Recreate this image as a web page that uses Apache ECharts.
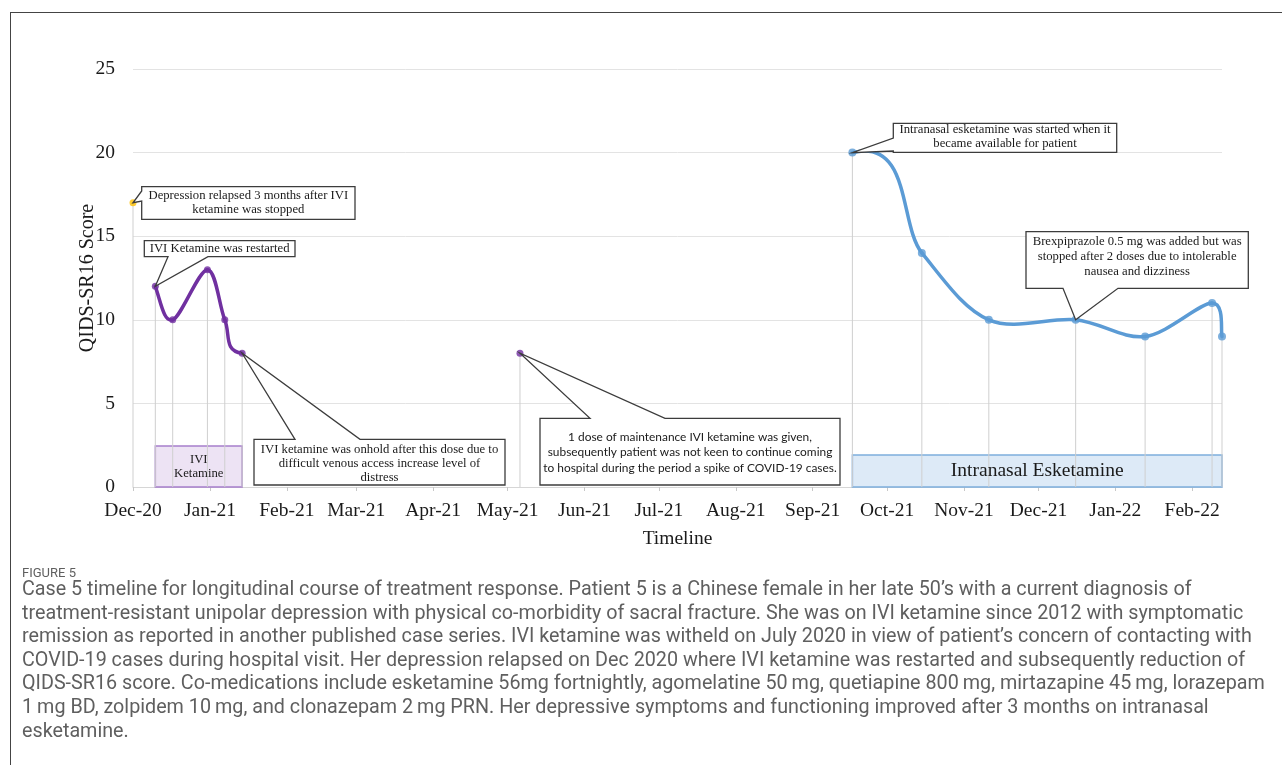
<!DOCTYPE html>
<html><head><meta charset="utf-8">
<script src="https://cdn.jsdelivr.net/npm/echarts@6/dist/echarts.min.js"></script>
<style>
html,body{margin:0;padding:0;background:#fff;}
#wrap{position:relative;width:1282px;height:765px;overflow:hidden;background:#fff;}
#frame{position:absolute;left:10px;top:12px;width:1400px;height:900px;border-left:1.5px solid #444;border-top:1.5px solid #444;}
#chart{position:absolute;left:0;top:0;width:1282px;height:765px;}
.cap{position:absolute;left:22px;white-space:nowrap;font-family:Roboto,"Noto Sans",sans-serif;color:#5f5f5f;}
</style></head>
<body>
<div id="wrap"><div id="frame"></div><div id="chart"></div><div id="caption"></div></div>
<script>
// ---------------- DATA ----------------
const monthNames = ['Jan','Feb','Mar','Apr','May','Jun','Jul','Aug','Sep','Oct','Nov','Dec'];
const axisStart = '2020-12-01';
const axisEnd = '2022-02-13';
const yMin = 0, yMax = 25, yStep = 5;

const relapseDates  = ['2020-12-01'];
const relapseScores = [17];

const iviDates  = ['2020-12-10','2020-12-17','2020-12-31','2021-01-07','2021-01-14'];
const iviScores = [12, 10, 13, 10, 8];

const maintDates  = ['2021-05-06'];
const maintScores = [8];

const esketDates  = ['2021-09-17','2021-10-15','2021-11-11','2021-12-16','2022-01-13','2022-02-09','2022-02-13'];
const esketScores = [20, 14, 10, 10, 9, 11, 9];

const iviPeriod   = {label: 'IVI\nKetamine', from: '2020-12-10', to: '2021-01-14', height: 2.45};
const esketPeriod = {label: 'Intranasal Esketamine', from: '2021-09-17', to: '2022-02-13', height: 1.92};

const captionTitle = 'FIGURE 5';
const captionLines = [
 'Case 5 timeline for longitudinal course of treatment response. Patient 5 is a Chinese female in her late 50\u2019s with a current diagnosis of',
 'treatment-resistant unipolar depression with physical co-morbidity of sacral fracture. She was on IVI ketamine since 2012 with symptomatic',
 'remission as reported in another published case series. IVI ketamine was witheld on July 2020 in view of patient\u2019s concern of contacting with',
 'COVID-19 cases during hospital visit. Her depression relapsed on Dec 2020 where IVI ketamine was restarted and subsequently reduction of',
 'QIDS-SR16 score. Co-medications include esketamine 56mg fortnightly, agomelatine 50\u2009mg, quetiapine 800\u2009mg, mirtazapine 45\u2009mg, lorazepam',
 '1\u2009mg BD, zolpidem 10\u2009mg, and clonazepam 2\u2009mg PRN. Her depressive symptoms and functioning improved after 3 months on intranasal',
 'esketamine.'
];

// ---------------- HELPERS ----------------
function ts(s){ const p = s.split('-').map(Number); return new Date(p[0], p[1]-1, p[2]).getTime(); }
function pairs(ds, vs){ return ds.map((d,i)=>[ts(d), vs[i]]); }
const measureCtx = document.createElement('canvas').getContext('2d');
function fitSize(text, family, target){
  measureCtx.font = '100px ' + family;
  return 100 * target / measureCtx.measureText(text).width;
}

const SERIF = '"Liberation Serif","Times New Roman",serif';
const BLACK = '#1a1a1a';
const PURPLE = '#7030A0';
const BLUE = '#5B9BD5';
const GOLD = '#FFC000';

// one chronological sequence (the original is a single smoothed series whose
// connecting segments between treatment phases are hidden)
const groups = [
  {dates: relapseDates, scores: relapseScores, line: null},
  {dates: iviDates, scores: iviScores, line: PURPLE},
  {dates: maintDates, scores: maintScores, line: null},
  {dates: esketDates, scores: esketScores, line: BLUE}
];
const seq = [];
groups.forEach((g, gi) => g.dates.forEach((d, i) => seq.push({t: ts(d), v: g.scores[i], g: gi})));
const segColor = seq.map((p, i) => (i < seq.length-1 && seq[i+1].g === p.g) ? groups[p.g].line : null);

const allPoints = seq.map(p => [p.t, p.v]);

function dist(a,b){ return Math.hypot(a[0]-b[0], a[1]-b[1]); }

const chart = echarts.init(document.getElementById('chart'), null, {renderer:'canvas'});

const option = {
  animation: false,
  grid: {left: 133, right: 60, top: 69, bottom: 278, containLabel: false},
  xAxis: {
    type: 'time',
    min: ts(axisStart), max: ts(axisEnd),
    splitNumber: 15,
    minInterval: 28*86400000, maxInterval: 31*86400000,
    name: 'Timeline', nameLocation: 'middle', nameGap: 42,
    nameTextStyle: {fontFamily: SERIF, fontSize: 19.5, color: BLACK},
    axisLine: {show: true, lineStyle: {color: '#d6d6d6', width: 1}},
    axisTick: {show: true, length: 4, lineStyle: {color: '#c8c8c8'}},
    minorTick: {show: false},
    splitLine: {show: false},
    axisLabel: {
      fontFamily: SERIF, fontSize: 19.5, color: BLACK, margin: 14,
      showMinLabel: true, showMaxLabel: false, hideOverlap: false,
      formatter: function(v){ const d = new Date(v); return monthNames[d.getMonth()] + '-' + String(d.getFullYear()).slice(2); }
    }
  },
  yAxis: {
    type: 'value', min: yMin, max: yMax, interval: yStep,
    name: 'QIDS-SR16 Score', nameLocation: 'middle', nameGap: 35, nameMoveOverlap: false,
    nameTextStyle: {fontFamily: SERIF, fontSize: 20, color: BLACK},
    axisLine: {show: false}, axisTick: {show: false},
    splitLine: {lineStyle: {color: '#e3e3e3', width: 1}},
    axisLabel: {fontFamily: SERIF, fontSize: 19.5, color: BLACK, margin: 18}
  },
  series: [
    {
      type: 'custom', name: 'drop', z: 1, silent: true,
      data: allPoints,
      encode: {x: 0, y: 1},
      renderItem: function(params, api){
        const x = api.value(0), y = api.value(1);
        const a = api.coord([x, 0]), b = api.coord([x, y]);
        return {type: 'line', shape: {x1: a[0], y1: a[1], x2: b[0], y2: b[1]},
                style: {stroke: '#cfcfcf', lineWidth: 1}};
      }
    },
    {
      // smoothed connecting curve (Excel-style Bezier smoothing in pixel space)
      type: 'custom', name: 'curve', z: 2, silent: true,
      data: allPoints,
      encode: {x: 0, y: 1},
      renderItem: function(params, api){
        const i = params.dataIndex;
        const col = segColor[i];
        if (!col) return null;
        const P = k => { k = Math.max(0, Math.min(seq.length-1, k)); return api.coord([seq[k].t, seq[k].v]); };
        const p0 = P(i-1), p1 = P(i), p2 = P(i+1), p3 = P(i+2);
        const d02 = dist(p0,p2), d12 = dist(p1,p2), d13 = dist(p1,p3);
        const f1 = (d02/6 < d12/2 || d02 === 0) ? 1/6 : d12/(2*d02);
        const f2 = (d13/6 < d12/2 || d13 === 0) ? 1/6 : d12/(2*d13);
        return {type: 'bezierCurve',
          shape: {x1: p1[0], y1: p1[1], x2: p2[0], y2: p2[1],
                  cpx1: p1[0] + f1*(p2[0]-p0[0]), cpy1: p1[1] + f1*(p2[1]-p0[1]),
                  cpx2: p2[0] - f2*(p3[0]-p1[0]), cpy2: p2[1] - f2*(p3[1]-p1[1])},
          style: {stroke: col, lineWidth: 3.5, fill: null, lineCap: 'round'}};
      }
    },
    {
      type: 'scatter', name: 'IVI', z: 3,
      data: pairs(iviDates, iviScores), symbol: 'circle', symbolSize: 7,
      itemStyle: {color: PURPLE},
      markArea: {
        silent: true,
        itemStyle: {color: '#EDE3F4', borderColor: '#A77FCB', borderWidth: 1.5},
        label: {show: true, position: 'inside', fontFamily: SERIF, fontSize: 12.7, lineHeight: 14, color: BLACK},
        data: [[{xAxis: ts(iviPeriod.from), yAxis: 0, name: iviPeriod.label}, {xAxis: ts(iviPeriod.to), yAxis: iviPeriod.height}]]
      }
    },
    {
      type: 'scatter', name: 'Esketamine', z: 3,
      data: pairs(esketDates, esketScores), symbol: 'circle', symbolSize: 8,
      itemStyle: {color: BLUE},
      markArea: {
        silent: true,
        itemStyle: {color: '#DDEAF7', borderColor: '#7EAEDD', borderWidth: 1.5},
        label: {show: true, position: 'inside', fontFamily: SERIF, fontSize: 19.5, color: BLACK},
        data: [[{xAxis: ts(esketPeriod.from), yAxis: 0, name: esketPeriod.label}, {xAxis: ts(esketPeriod.to), yAxis: esketPeriod.height}]]
      }
    },
    {
      type: 'scatter', name: 'Maintenance', z: 3,
      data: pairs(maintDates, maintScores), symbol: 'circle', symbolSize: 7,
      itemStyle: {color: PURPLE}
    },
    {
      type: 'scatter', name: 'Relapse', z: 3,
      data: pairs(relapseDates, relapseScores), symbol: 'circle', symbolSize: 7,
      itemStyle: {color: GOLD}
    }
  ]
};
chart.setOption(option);

// ---------------- CALLOUTS (layout in pixels, tips from data) ----------------
const LATO = 'Lato,"Open Sans",sans-serif';
const covidFont = fitSize('subsequently patient was not keen to continue coming', 'Lato', 285);
const callouts = [
  {text: 'Depression relapsed 3 months after IVI\nketamine was stopped', box: [141.7,186.7,355,219.3], edge: 'left', base: [191,201],
   target: [relapseDates[0], relapseScores[0]], family: SERIF, size: 12.7, lh: 14},
  {text: 'IVI Ketamine was restarted', box: [144.3,240.7,295,256.7], edge: 'bottom', base: [168,208],
   target: [iviDates[0], iviScores[0]], family: SERIF, size: 12.7, lh: 14},
  {text: 'IVI ketamine was onhold after this dose due to\ndifficult venous access increase level of\ndistress', box: [254,439.3,505,485], edge: 'top', base: [295,360],
   target: [iviDates[4], iviScores[4]], family: SERIF, size: 12.7, lh: 14, dy: 1.5},
  {text: '1 dose of maintenance IVI ketamine was given,\nsubsequently patient was not keen to continue coming\nto hospital during the period a spike of COVID-19 cases.', box: [540,418.3,840,485], edge: 'top', base: [590,665],
   target: [maintDates[0], maintScores[0]], family: LATO, size: covidFont, lh: 15.2, dy: 1},
  {text: 'Intranasal esketamine was started when it\nbecame available for patient', box: [893.3,123.3,1116.7,152.3], edge: 'left', base: [138,151],
   target: [esketDates[0], esketScores[0]], family: SERIF, size: 12.7, lh: 13.5, dy: -1},
  {text: 'Brexpiprazole 0.5 mg was added but was\nstopped after 2 doses due to intolerable\nnausea and dizziness', box: [1026,231.7,1248.3,288.3], edge: 'bottom', base: [1063,1118],
   target: [esketDates[3], esketScores[3]], family: SERIF, size: 12.7, lh: 14.7, dy: -3.5}
];
function calloutPoints(b, edge, base, tip){
  const [x1,y1,x2,y2] = b, [b1,b2] = base;
  if (edge === 'top')    return [[x1,y1],[b1,y1],tip,[b2,y1],[x2,y1],[x2,y2],[x1,y2]];
  if (edge === 'bottom') return [[x1,y1],[x2,y1],[x2,y2],[b2,y2],tip,[b1,y2],[x1,y2]];
  if (edge === 'left')   return [[x1,y1],[x2,y1],[x2,y2],[x1,y2],[x1,b2],tip,[x1,b1]];
  return [[x1,y1],[x2,y1],[x2,b1],tip,[x2,b2],[x2,y2],[x1,y2]];
}
const graphics = [];
callouts.forEach(c => {
  const tip = chart.convertToPixel({xAxisIndex: 0, yAxisIndex: 0}, [ts(c.target[0]), c.target[1]]);
  graphics.push({type: 'polygon', z: 100, silent: true,
    shape: {points: calloutPoints(c.box, c.edge, c.base, tip)},
    style: {fill: '#ffffff', stroke: '#3c3c3c', lineWidth: 1.3}});
  graphics.push({type: 'text', z: 101, silent: true,
    x: (c.box[0]+c.box[2])/2, y: (c.box[1]+c.box[3])/2 + (c.dy || 0),
    style: {text: c.text, fontFamily: c.family, fontSize: c.size, lineHeight: c.lh, fill: BLACK,
            align: 'center', verticalAlign: 'middle'}});
});
chart.setOption({graphic: graphics});

// ---------------- CAPTION ----------------
const cap = document.getElementById('caption');
const capSize = fitSize(captionLines[4], 'Roboto', 1243);
const t = document.createElement('div');
t.className = 'cap'; t.textContent = captionTitle;
t.style.fontSize = '13px'; t.style.top = (573 - 9) + 'px'; t.style.lineHeight = '18px';
cap.appendChild(t);
captionLines.forEach((ln, i) => {
  const d = document.createElement('div');
  d.className = 'cap'; d.textContent = ln;
  d.style.fontSize = capSize.toFixed(2) + 'px';
  d.style.lineHeight = '23.5px';
  d.style.top = (589 + i*23.55 - 11.75) + 'px';
  cap.appendChild(d);
});
</script>
</body></html>
